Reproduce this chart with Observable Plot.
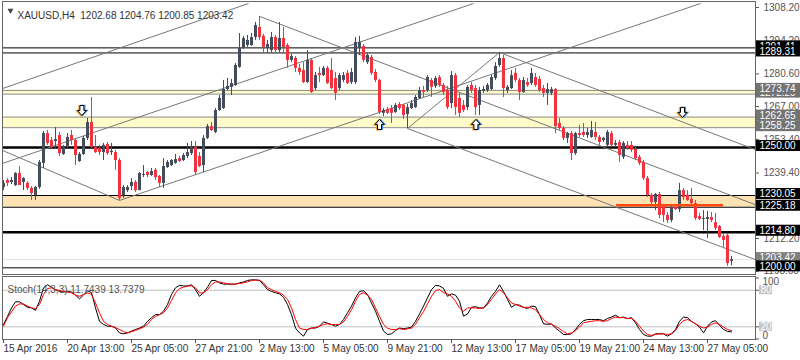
<!DOCTYPE html>
<html><head><meta charset="utf-8">
<script src="https://cdn.jsdelivr.net/npm/d3@7"></script>
<script src="https://cdn.jsdelivr.net/npm/@observablehq/plot@0.6"></script>
<style>
html,body{margin:0;padding:0;background:#fff;}
#chart{width:800px;height:360px;position:relative;overflow:hidden;}
#chart svg{display:block;}
</style></head><body><div id="chart"></div>
<script>
// ---- XAUUSD H4 candles (bar index 0..182) ----
const opens = [1233.4,1236.3,1235.5,1234.2,1239.2,1235.5,1235.1,1233.0,1230.1,1233.4,
1243.4,1255.8,1252.9,1252.5,1255.0,1247.1,1250.0,1255.0,1252.9,1244.2,
1247.1,1253.8,1260.4,1250.0,1249.6,1247.9,1251.3,1247.9,1247.9,1244.6,
1230.1,1232.1,1233.8,1235.5,1232.1,1238.4,1239.6,1238.4,1240.5,1238.0,
1235.1,1241.7,1242.5,1243.4,1245.4,1244.6,1246.3,1247.5,1250.0,1246.3,
1242.5,1253.8,1258.7,1256.3,1265.4,1266.2,1274.1,1275.0,1275.8,1283.3,
1291.2,1292.4,1292.4,1295.7,1299.9,1296.2,1291.2,1290.3,1295.7,1290.3,
1295.3,1292.4,1286.2,1287.0,1282.9,1282.0,1277.0,1286.2,1274.5,1280.8,
1279.9,1282.9,1282.0,1278.7,1274.5,1277.9,1280.8,1277.0,1277.0,1291.2,
1292.0,1285.3,1287.4,1281.2,1277.9,1264.2,1265.8,1266.2,1264.6,1267.9,
1267.5,1263.7,1266.2,1266.6,1270.4,1273.7,1273.7,1277.9,1275.4,1279.1,
1275.8,1273.7,1268.3,1279.9,1270.4,1267.5,1266.6,1275.8,1274.5,1267.5,
1273.3,1273.7,1274.1,1278.7,1284.1,1287.0,1273.7,1274.5,1280.8,1277.9,
1272.9,1277.0,1276.6,1279.1,1278.3,1274.5,1272.5,1272.5,1274.1,1260.0,
1257.9,1253.8,1255.8,1247.5,1255.8,1256.3,1255.0,1254.2,1256.3,1254.2,
1252.9,1250.9,1255.8,1250.9,1252.1,1245.9,1250.9,1250.9,1249.2,1245.9,
1243.8,1237.1,1230.1,1227.2,1230.5,1225.9,1221.8,1219.7,1225.1,1224.2,
1232.1,1230.1,1228.4,1226.7,1221.3,1220.1,1220.1,1220.9,1218.8,1217.2,
1213.0,1213.4,1202.68];
const highs = [1236.3,1237.1,1237.5,1239.6,1242.1,1237.5,1235.9,1233.8,1233.8,1244.6,
1256.7,1257.1,1254.2,1258.3,1256.3,1250.9,1255.8,1257.1,1253.8,1247.9,
1254.6,1262.1,1270.8,1255.0,1250.9,1251.7,1252.1,1251.7,1248.8,1245.4,
1234.2,1234.2,1237.1,1236.3,1239.6,1242.5,1240.0,1241.3,1241.3,1238.4,
1245.4,1244.6,1245.0,1247.1,1246.3,1247.5,1251.7,1252.5,1252.5,1247.9,
1255.0,1259.6,1260.4,1266.2,1271.6,1277.9,1278.7,1278.3,1284.9,1297.4,
1296.2,1296.6,1297.4,1302.0,1304.5,1297.0,1294.5,1297.8,1296.6,1302.0,
1299.9,1293.2,1288.7,1287.8,1284.5,1285.3,1290.3,1287.0,1281.2,1283.3,
1283.7,1283.7,1287.0,1281.2,1280.8,1281.2,1282.0,1282.9,1295.7,1296.2,
1292.8,1289.1,1288.3,1282.4,1278.3,1266.2,1266.6,1267.5,1268.3,1268.7,
1267.9,1267.9,1269.5,1271.6,1275.0,1275.4,1279.9,1278.7,1279.5,1279.9,
1276.6,1275.4,1281.6,1280.8,1272.5,1269.5,1275.8,1277.0,1275.8,1275.0,
1275.4,1276.6,1279.9,1285.3,1289.5,1288.3,1275.8,1282.0,1282.9,1278.7,
1279.1,1278.7,1282.9,1280.8,1279.5,1275.8,1276.6,1275.0,1274.5,1262.1,
1258.7,1256.3,1256.7,1256.3,1259.2,1260.0,1257.9,1260.8,1260.4,1255.0,
1254.2,1257.1,1256.7,1252.9,1252.9,1252.5,1252.5,1252.5,1250.0,1246.7,
1244.6,1238.0,1230.9,1230.9,1231.3,1226.3,1223.0,1225.9,1226.3,1235.1,
1233.0,1232.1,1233.0,1228.0,1222.6,1223.8,1223.4,1223.0,1222.6,1217.6,
1213.9,1214.3,1204.76];
const lows = [1232.1,1233.8,1234.6,1233.8,1234.2,1232.1,1232.1,1228.0,1228.0,1232.6,
1241.3,1250.9,1249.6,1249.6,1246.3,1246.7,1249.6,1250.9,1242.5,1243.8,
1246.7,1252.9,1249.6,1247.5,1246.7,1244.6,1246.7,1246.7,1240.5,1228.0,
1228.8,1231.3,1232.1,1231.3,1232.1,1237.5,1237.5,1238.0,1236.3,1233.4,
1233.0,1241.3,1242.1,1243.0,1243.8,1244.2,1245.4,1246.7,1238.4,1241.7,
1239.6,1253.3,1256.7,1255.8,1265.0,1265.8,1273.7,1271.6,1275.4,1282.9,
1290.8,1291.6,1292.0,1294.5,1294.5,1289.5,1289.1,1289.5,1289.5,1289.5,
1289.5,1282.9,1285.3,1281.2,1279.9,1276.6,1276.6,1272.5,1273.7,1277.0,
1279.5,1276.2,1274.1,1269.5,1273.7,1277.0,1276.2,1276.2,1276.2,1288.3,
1285.3,1284.5,1279.9,1277.0,1263.7,1262.9,1263.7,1260.0,1264.2,1265.4,
1261.7,1257.9,1265.8,1266.2,1270.0,1270.8,1272.9,1270.8,1274.5,1275.0,
1271.6,1265.8,1266.2,1263.3,1262.5,1264.6,1265.4,1272.5,1263.3,1263.3,
1272.5,1272.9,1273.7,1277.9,1283.3,1270.8,1272.5,1274.1,1277.0,1269.5,
1272.5,1275.0,1275.8,1275.0,1272.9,1270.8,1267.5,1271.6,1255.8,1257.1,
1252.9,1251.7,1244.6,1246.7,1254.2,1254.2,1253.8,1253.8,1252.9,1250.9,
1252.1,1250.4,1250.0,1250.4,1243.8,1245.0,1248.8,1247.9,1244.6,1242.5,
1236.3,1229.2,1226.3,1223.8,1220.5,1218.8,1218.4,1218.8,1223.8,1223.0,
1228.0,1227.6,1225.9,1219.7,1219.7,1215.5,1212.2,1218.8,1215.5,1212.2,
1208.5,1200.6,1200.85];
const closes = [1235.1,1235.1,1236.3,1239.2,1234.2,1237.1,1233.0,1230.9,1233.4,1243.8,
1255.8,1251.7,1250.0,1253.3,1247.5,1250.0,1254.2,1252.9,1246.7,1247.1,
1253.8,1260.4,1250.0,1247.9,1247.9,1250.9,1247.5,1248.4,1244.6,1228.8,
1233.4,1233.4,1235.5,1232.1,1239.2,1238.8,1238.4,1240.0,1237.5,1235.1,
1242.1,1243.8,1244.6,1245.0,1244.2,1246.7,1247.9,1250.0,1239.6,1242.1,
1253.8,1258.7,1257.1,1265.4,1270.4,1274.1,1275.4,1276.6,1284.1,1291.2,
1295.3,1294.5,1295.7,1300.7,1295.7,1291.6,1292.8,1295.7,1290.3,1295.3,
1291.6,1286.2,1287.8,1282.9,1281.2,1277.0,1286.2,1272.9,1279.9,1279.9,
1282.9,1276.6,1274.5,1272.5,1279.9,1279.9,1276.6,1281.2,1293.7,1293.7,
1286.2,1288.3,1280.8,1277.9,1264.6,1265.4,1264.2,1264.2,1267.5,1266.2,
1263.3,1266.6,1268.3,1270.8,1273.7,1272.9,1279.1,1275.0,1278.7,1275.8,
1272.9,1266.6,1279.9,1266.6,1264.2,1265.4,1275.0,1273.7,1266.6,1273.7,
1274.1,1275.8,1279.1,1283.7,1287.0,1274.5,1275.0,1279.9,1277.9,1272.9,
1277.9,1275.8,1280.8,1275.8,1273.7,1272.5,1274.1,1274.1,1258.7,1257.9,
1253.8,1255.8,1247.5,1255.8,1255.0,1255.0,1256.3,1257.1,1254.2,1252.1,
1253.8,1256.3,1250.9,1251.7,1246.7,1251.7,1249.6,1248.8,1245.4,1243.4,
1237.1,1230.1,1227.2,1230.5,1221.8,1221.8,1219.7,1225.1,1224.2,1232.1,
1229.2,1228.0,1226.7,1220.5,1220.1,1220.5,1220.9,1219.7,1216.4,1212.6,
1211.4,1201.8,1203.42];

// ---- Stochastic (14,3,3) ----
const stochK = [23.8,37,51,61,61,56.5,52,51,47,62,
84,89,85,81,78,77,78,77,72,66,
72,79,76,51,29,24,21,21,18,10,
8.5,10,13,15.6,18,21,29,35,40,40,
45.6,56.5,73,84,88,87,87,89,81,70,
76,85,96,96,92,90,90,90,90,92,
93.6,96,97,97,96,89,81,78,76,74,
68.5,56.5,40,18,10,4.7,15.6,18,18,21,
28,26,23.8,21,23.8,32,43,54,67.5,78,
79,73,59,45.6,29,13,7.4,8.5,14,18,
17,18,19.5,29,41,54,67.5,81,88,87,
83,70,74,72,62,37.5,41,52,53,51,
51,59,70,78,89,78,65,52,56.5,55.5,
52,50,54,53,40,25,24,25,18,13,
7.4,7.4,8.5,15.6,24,30,32,32,32,32,
30,33.6,36,39,35,36,33.6,35,26.5,15.6,
7.4,4.7,4.7,8.5,8.5,8.5,4.7,8.5,15.6,29,
36,35,29,25,19.5,10,21,28,30,22.7,
15.6,12.5,11.7439];
const stochD = [21,35,44.5,54,57.6,57.6,54,51,50,56.5,
73,82.7,84,81,79.5,78,77,75.6,72,70,
73,75.6,73,59,43,29,23.8,21,19,15.6,
12,10,12,14,16.7,19.5,24,32,37,40,
43,51,63,75.6,82.7,85,87,87,84,75.6,
75.6,81,89,93.6,93.6,92,91,90,90,91,
92,93.6,96,96.5,96.5,92,84,81,78,76,
72,65,51,32,18,15.6,15.6,18,19,21,
23.8,25,23.8,23.8,23.8,28,37,48,62,73,
76,72,65,51,37,24,17.6,15.6,15.6,17,
15.6,16.7,18,24,35,45,57.6,70,79.5,81,
76,74,70,62,51,45.6,51,51,51,50,
51,56.5,65,74,81,76,67.5,59,56.5,54,
52,52,51,48,40,32,26.5,24,21,17,
12,8.5,10,14,19.5,26.5,28,29,30,30,
29,30,33.6,36,35,35,33.6,33.6,29,21,
13,7.4,6,7.4,8.5,8.5,7.4,8.5,14,24,
30,32,29,25,21,18,19.5,24,26.5,24,
19.5,15.6,13.7379];
const stochLevels = [80, 20];

// ---- axes ----
const priceTicks = [1308.2, 1294.2, 1280.6, 1267.0, 1253.4, 1239.4, 1225.8, 1212.2, 1198.6];
const timeTickBars = [0, 16, 32, 48, 64, 80, 96, 112, 128, 144, 160, 176];
const timeTickLabels = ["15 Apr 2016","20 Apr 13:00","25 Apr 05:00","27 Apr 21:00","2 May 13:00","5 May 05:00","9 May 21:00","12 May 13:00","17 May 05:00","19 May 21:00","24 May 13:00","27 May 05:00"];

// ---- drawn objects ----
const thinLevels = [1291.41, 1289.31, 1200.00];
const thickLevels = [1250.00, 1214.80];
const yellowZoneTops = [1273.74, 1262.65];
const yellowZoneBottoms = [1272.20, 1258.25];
const orangeZone = [1230.05, 1225.18];
const supportSegBars = [153.25, 180];
const supportSegPrice = 1226.0;
const trendX1 = [-0.25, -0.25, 29, 101, 64, 101, -0.25, 124];
const trendY1 = [1274.5, 1243.4, 1228.0, 1257.9, 1304.5, 1257.9, 1248.8, 1289.5];
const trendX2 = [61.25, 117.5, 174.25, 124, 188, 188, 29, 188];
const trendY2 = [1309.86, 1309.86, 1309.86, 1289.5, 1226.2, 1203.4, 1228.0, 1249.1];
const arrowBars = [19.6, 94, 118.1, 169.75];
const arrowPrices = [1265.4, 1259.6, 1259.6, 1264.6];
const arrowDirs = ["down", "up", "up", "down"];
const priceLabelValues = [1291.41, 1289.31, 1272.20, 1273.74, 1262.65, 1258.25, 1250.00, 1230.05, 1225.18, 1214.80, 1203.42, 1200.00];
const priceLabelKinds = ["line","line","zone","zone","zone","zone","line","line","line","line","bid","line"];

// ---- layout ----
const FONT = "'Liberation Sans', Arial, sans-serif";
const PL = 2, PR = 45;
const xDomain = [-0.25, 188];
const pxToBar = px => xDomain[0] + (px - PL) / 4;
const yDomain = [1197.23, 1310.69];
const pxPerPrice = 273 / (yDomain[1] - yDomain[0]);
const N = closes.length;
const bars = d3.range(N).map(i => ({i, o: opens[i], h: highs[i], l: lows[i], c: closes[i]}));
const bullBars = bars.filter(d => d.c >= d.o);
const bearBars = bars.filter(d => d.c < d.o);
const BULL = "#434d5c", BEAR = "#f2323e";
const trends = trendX1.map((x, i) => ({x1: x, y1: trendY1[i], x2: trendX2[i], y2: trendY2[i]}));
const zones = yellowZoneTops.map((t, i) => ({t, b: yellowZoneBottoms[i]}));

const boxHalf = 5.5 / pxPerPrice, boxLift = 1.5 / pxPerPrice;
const labelMarks = priceLabelValues.flatMap((v, i) => {
  const fill = priceLabelKinds[i] === "line" ? "#000" : (priceLabelKinds[i] === "bid" ? "#808080" : "#737373");
  return [
    Plot.rect([v], {x1: pxToBar(756), x2: pxToBar(800), y1: d => d + boxLift - boxHalf, y2: d => d + boxLift + boxHalf, fill}),
    Plot.text([v], {x: pxToBar(759), y: d => d + boxLift, text: d => d.toFixed(2), textAnchor: "start", fill: "#fff", fontSize: 10})
  ];
});

// hollow arrow symbols (MT4 style)
function arrowSymbol(dir) {
  const s = dir === "down" ? 1 : -1;
  return {
    draw(ctx, size) {
      const k = Math.sqrt(size / Math.PI) / 5;
      const pts = [[-2,-5],[2,-5],[2,0],[4.5,0],[0,5],[-4.5,0],[-2,0]];
      ctx.moveTo(pts[0][0] * k, pts[0][1] * k * s);
      for (let j = 1; j < pts.length; ++j) ctx.lineTo(pts[j][0] * k, pts[j][1] * k * s);
      ctx.closePath();
    }
  };
}
const arrowIdx = {down: d3.range(arrowBars.length).filter(i => arrowDirs[i] === "down"),
                  up: d3.range(arrowBars.length).filter(i => arrowDirs[i] === "up")};
const arrowMarks = ["down", "up"].flatMap(dir => [
  Plot.dot(arrowIdx[dir], {x: i => arrowBars[i], y: i => arrowPrices[i], symbol: arrowSymbol(dir), r: 5, fill: "none", stroke: "#f0a020", strokeWidth: 1.2, dx: -1, dy: 0.5}),
  Plot.dot(arrowIdx[dir], {x: i => arrowBars[i], y: i => arrowPrices[i], symbol: arrowSymbol(dir), r: 5, fill: "none", stroke: "#3d8fe0", strokeWidth: 1.2, dx: 1}),
  Plot.dot(arrowIdx[dir], {x: i => arrowBars[i], y: i => arrowPrices[i], symbol: arrowSymbol(dir), r: 5, fill: "#fff", stroke: "#000", strokeWidth: 1})
]);
const titleStr = "XAUUSD,H4\u00a0\u00a0" + [opens[N-1], highs[N-1], lows[N-1], closes[N-1]].map(v => v.toFixed(2)).join(" ");

const main = Plot.plot({
  width: 800, height: 275, marginLeft: PL, marginRight: PR, marginTop: 1, marginBottom: 1,
  style: {fontFamily: FONT, fontSize: "10px", background: "#fff"},
  x: {domain: xDomain, axis: null},
  y: {domain: yDomain, axis: null},
  marks: [
    Plot.rect(zones, {x1: xDomain[0], x2: xDomain[1], y1: "b", y2: "t", fill: "#fffcc9"}),
    Plot.ruleY(yellowZoneTops.concat(yellowZoneBottoms), {stroke: "#8a8a8a"}),
    Plot.rect([orangeZone], {x1: xDomain[0], x2: xDomain[1], y1: d => d[1], y2: d => d[0], fill: "#fde3b4"}),
    Plot.ruleY(orangeZone, {stroke: "#000"}),
    Plot.ruleY([closes[N-1]], {stroke: "#e4e4e4"}),
    Plot.ruleY(thinLevels, {stroke: "#000"}),
    Plot.ruleY(thickLevels, {stroke: "#000", strokeWidth: 2.5}),
    Plot.link(trends, {x1: "x1", y1: "y1", x2: "x2", y2: "y2", stroke: "#777", strokeWidth: 1}),
    Plot.ruleX(bullBars, {x: "i", y1: "l", y2: "h", stroke: BULL}),
    Plot.ruleX(bearBars, {x: "i", y1: "l", y2: "h", stroke: BEAR}),
    Plot.ruleX(bullBars, {x: "i", y1: "o", y2: "c", stroke: BULL, strokeWidth: 3}),
    Plot.ruleX(bearBars, {x: "i", y1: "o", y2: "c", stroke: BEAR, strokeWidth: 3}),
    Plot.ruleY([supportSegPrice], {x1: supportSegBars[0], x2: supportSegBars[1], stroke: "#ff4a10", strokeWidth: 2.5}),
    ...arrowMarks,
    Plot.dot([0], {frameAnchor: "top-left", dx: 8, dy: 9, symbol: "triangle", r: 2.2, fill: "#444", rotate: 180}),
    Plot.text([titleStr], {frameAnchor: "top-left", dx: 15, dy: 10, textAnchor: "start", fill: "#333", fontSize: 10}),
    Plot.ruleY(priceTicks, {x1: pxToBar(755), x2: pxToBar(759), stroke: "#555"}),
    Plot.text(priceTicks, {x: pxToBar(763), y: d => d, text: d => d.toFixed(2), textAnchor: "start", fill: "#555", fontSize: 10}),
    ...labelMarks,
    Plot.frame({stroke: "#666"})
  ]
});

const sDomain = [-0.8, 102.5];
const sPxPerUnit = 63 / (sDomain[1] - sDomain[0]);
const sAt = ly => sDomain[0] + (64 - ly) / sPxPerUnit;
const sBox = 4.5 / sPxPerUnit;
const stochTitle = "Stoch(14,3,3) " + stochK[N-1].toFixed(4) + " " + stochD[N-1].toFixed(4);

const stoch = Plot.plot({
  width: 800, height: 85, marginLeft: PL, marginRight: PR, marginTop: 1, marginBottom: 21,
  style: {fontFamily: FONT, fontSize: "10px", background: "#fff"},
  x: {domain: xDomain, axis: null},
  y: {domain: sDomain, axis: null},
  marks: [
    Plot.ruleY(stochLevels, {stroke: "#c0c0c0"}),
    Plot.line(stochK, {x: (d, i) => i, y: d => d, stroke: "#000", strokeWidth: 1}),
    Plot.line(stochD, {x: (d, i) => i, y: d => d, stroke: "#ff0000", strokeWidth: 1}),
    Plot.text([stochTitle], {frameAnchor: "top-left", dx: 5, dy: 9, textAnchor: "start", fill: "#555", fontSize: 10}),
    Plot.frame({stroke: "#666"}),
    Plot.ruleY([100, 80, 20, 0], {x1: pxToBar(755), x2: pxToBar(759), stroke: "#555"}),
    Plot.text(["100"], {x: pxToBar(762), y: 100, lineAnchor: "top", textAnchor: "start", fill: "#555", fontSize: 10}),
    Plot.text(["0"], {x: pxToBar(762), y: 0, lineAnchor: "bottom", textAnchor: "start", fill: "#555", fontSize: 10}),
    Plot.rect(stochLevels, {x1: pxToBar(759), x2: pxToBar(772), y1: d => d - sBox, y2: d => d + sBox, fill: "#c4c4c4"}),
    Plot.text(stochLevels, {x: pxToBar(760), y: d => d, text: d => String(d), textAnchor: "start", fill: "#fff", fontSize: 10}),
    Plot.ruleX(timeTickBars, {x: d => d, y1: sAt(64), y2: sAt(68), stroke: "#555"}),
    Plot.text(timeTickBars, {x: d => d, y: sAt(73), text: (d, i) => timeTickLabels[i], textAnchor: "start", fill: "#333", fontSize: 10})
  ]
});

const root = document.getElementById("chart");
root.appendChild(main);
root.appendChild(stoch);
</script>
</body></html>
